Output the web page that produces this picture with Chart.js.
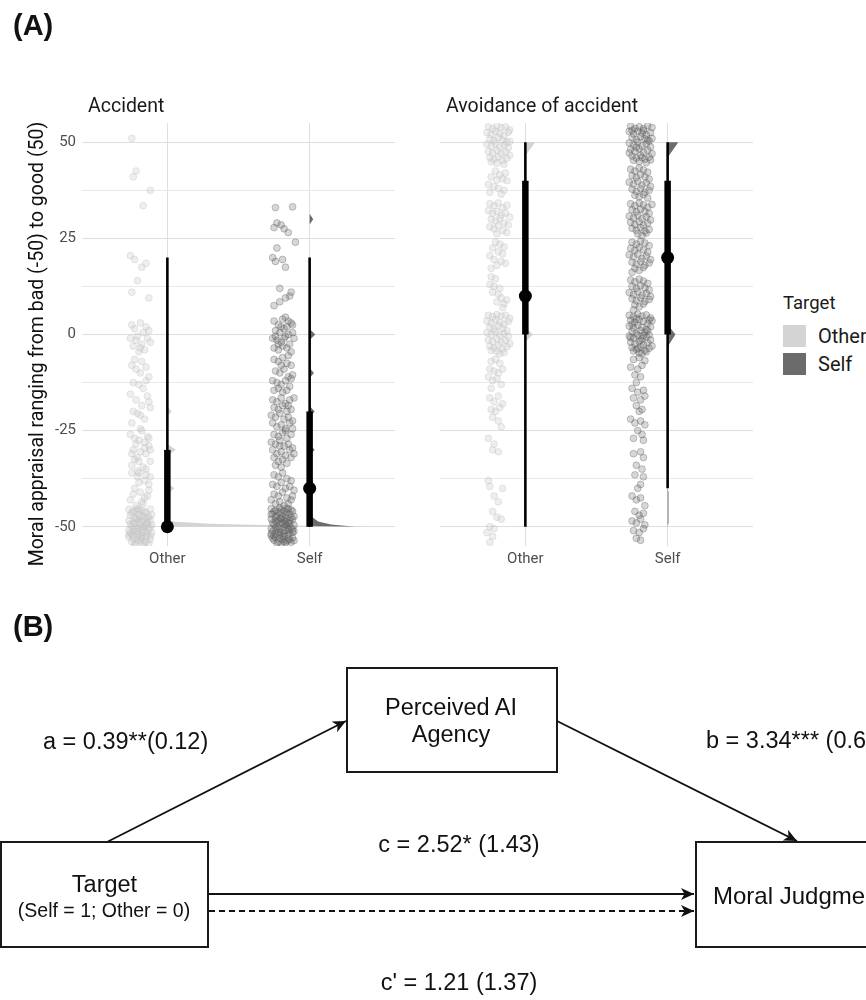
<!DOCTYPE html>
<html><head><meta charset="utf-8">
<script src="https://cdn.jsdelivr.net/npm/chart.js@4.4.1/dist/chart.umd.min.js"></script>
<style>
html,body{margin:0;padding:0;background:#fff;}
body{width:866px;height:1000px;overflow:hidden;position:relative;}
canvas{position:absolute;}
#c1{left:0;top:90px;}
#c2{left:420px;top:90px;}
.lg{position:absolute;font-family:Roboto,sans-serif;color:#1a1a1a;white-space:nowrap;line-height:1;}
.sw{position:absolute;width:23px;height:22px;}
svg{position:absolute;left:0;top:0;}
</style></head><body>
<canvas id="c1" width="420" height="480"></canvas>
<canvas id="c2" width="360" height="480"></canvas>
<div id="legend"></div>
<svg width="866" height="1000" viewBox="0 0 866 1000" font-family="'Liberation Sans', Arial, Helvetica, sans-serif" fill="#111">
<defs><marker id="ah" markerUnits="userSpaceOnUse" markerWidth="14" markerHeight="12" refX="13" refY="6" orient="auto"><path d="M0,0 L13,6 L0,12 L3.5,6 Z" fill="#111"/></marker></defs>
<text x="13" y="35" font-weight="bold" font-size="29">(A)</text>
<text x="13" y="636" font-weight="bold" font-size="29">(B)</text>
<g fill="#fff" stroke="#1a1a1a" stroke-width="2">
<rect x="1" y="842" width="207" height="105"/>
<rect x="347" y="668" width="210" height="104"/>
<rect x="696" y="842" width="200" height="105"/>
</g>
<g stroke="#111" stroke-width="1.8" fill="none">
<line x1="107" y1="842" x2="346" y2="721" marker-end="url(#ah)"/>
<line x1="557" y1="721" x2="797" y2="841" marker-end="url(#ah)"/>
<line x1="209" y1="894" x2="694" y2="894" marker-end="url(#ah)"/>
<line x1="209" y1="911" x2="694" y2="911" stroke-dasharray="6,4" marker-end="url(#ah)"/>
</g>
<text x="104.5" y="892" font-size="23.5" text-anchor="middle">Target</text>
<text x="104" y="917" font-size="19.5" text-anchor="middle">(Self = 1; Other = 0)</text>
<text x="451" y="715" font-size="23.5" text-anchor="middle">Perceived AI</text>
<text x="451" y="742" font-size="23.5" text-anchor="middle">Agency</text>
<text x="713" y="904" font-size="24">Moral Judgment</text>
<text x="43" y="749" font-size="23.5">a = 0.39**(0.12)</text>
<text x="706" y="748" font-size="23.5">b = 3.34*** (0.6</text>
<text x="459" y="852" font-size="23.5" text-anchor="middle">c = 2.52* (1.43)</text>
<text x="459" y="990" font-size="23.5" text-anchor="middle">c' = 1.21 (1.37)</text>
</svg>
<script>
const categories = ['Other', 'Self'];
const facets = ['Accident', 'Avoidance of accident'];
const yTitle = 'Moral appraisal ranging from bad (-50) to good (50)';
const legendTitle = 'Target';
const yMajorTicks = [-50, -25, 0, 25, 50];
const yMinorTicks = [-37.5, -12.5, 12.5, 37.5];
const groupColors = ['#d4d4d4', '#6b6b6b'];

// point + intervals, [Other, Self]
const accMedian = [-50, -40];
const accInner = [[-50, -30], [-50, -20]];
const accOuter = [[-50, 20], [-50, 20]];
const avdMedian = [10, 20];
const avdInner = [[0, 40], [0, 40]];
const avdOuter = [[-50, 50], [-40, 50]];

// half-violin outlines: [width (x units), value]
const accOtherDens = [[0,-50],[1.4,-50],[0.75,-49.6],[0.3,-49.2],[0.06,-48.7],[0,-48.4],[0,-41.4],[0.05,-40],[0,-38.6],[0,-31.5],[0.06,-30],[0,-28.5],[0,-21.2],[0.03,-20],[0,-18.8],[0,-11],[0.012,-10],[0,-9],[0,-1],[0.012,0],[0,1]];
const accSelfDens = [[0,-50],[0.32,-50],[0.15,-49.4],[0.06,-48.6],[0.02,-47.5],[0,-46.5],[0,-31.4],[0.035,-30],[0,-28.6],[0,-21.4],[0.035,-20],[0,-18.6],[0,-11.3],[0.03,-10],[0,-8.7],[0,-1.4],[0.04,0],[0,1.4],[0,28.6],[0.025,30],[0,31.4]];
const avdOtherDens = [[0,-1.8],[0.055,0],[0,1.8],[0,46.5],[0.07,50],[0,50]];
const avdSelfDens = [[0,-50],[0.006,-49],[0.006,-41],[0,-40],[0,-3.2],[0.055,0],[0,2.6],[0,8.8],[0.012,10],[0,11.2],[0,28.8],[0.018,30],[0,31.2],[0,46],[0.075,50],[0,50]];

// jittered responses: [horizontal jitter (hundredths), value]
const accOtherPts = [[-6,51],[-3,42.5],[-5,41],[7,37.5],[2,33.5],[-7,20.5],[-4,19.5],[4,18.5],[1,17.5],[-2,14],[-6,11],[6,9.5],
[-6,2.5],[-4,1.5],[0,3],[2,0.5],[5,-1],[7,-2],[-3,-1.5],[-5,-3],[1,-2.5],[3,-4],[-1,-4.5],[6,1],[-2,-0.5],[4,2],[-7,-1],[0,-3.5],
[-6,-8],[-3,-9],[0,-10],[4,-8.5],[6,-11],[-5,-12.5],[-1,-13],[2,-14],[-7,-15.5],[5,-16],[-3,-17],[1,-18.5],[7,-19],[-5,-20],[0,-21],[3,-22],[-2,-20.5],[6,-17.5],[-6,-23],[4,-12],[-4,-6.5],[1,-7],
[-7,-26],[-4,-27],[-1,-27.5],[3,-28],[6,-29],[-5,-30],[0,-30.5],[4,-31],[-2,-32],[7,-33],[-6,-34],[2,-34.5],[-3,-28.5],[5,-26.5],[-1,-33],[1,-25],[-6,-31],[4,-35],[6,-27],[-4,-32.5],[0,-24.5],[3,-29.5],[-2,-35.5],[7,-30],
[-6,-36],[-2,-37],[3,-38],[6,-39],[-4,-40],[0,-41],[5,-42],[-7,-43],[2,-44],[-1,-38.5],[4,-36.5],[-5,-41.5],[1,-43.5],[7,-37],[-3,-44.5],[6,-40.5],[-1,-36],[3,-42.5],
[-8,-45.5],[-5,-46],[-2,-45.2],[1,-45.8],[4,-46.3],[7,-45.4],[-7,-47],[-4,-47.5],[-1,-46.8],[2,-47.2],[5,-47.8],[8,-46.9],
[-8,-48.4],[-5,-48.9],[-2,-48.1],[1,-48.6],[4,-49.2],[7,-48.3],[-6,-49.8],[-3,-50.3],[0,-49.6],[3,-50.1],[6,-50.6],[-8,-50.9],
[-7,-51.5],[-4,-51.1],[-1,-51.8],[2,-51.3],[5,-52],[8,-51.6],[-8,-52.7],[-5,-53.1],[-2,-52.4],[1,-53],[4,-52.6],[7,-53.3],
[-6,-53.9],[-3,-54.3],[0,-53.7],[3,-54.1],[6,-54.4],[-1,-50.4],[-6,-46.4],[-3,-45.9],[0,-47.6],[3,-46.1],[6,-47.4],[-7,-49.3],
[-4,-49.1],[-1,-48.8],[2,-49.9],[5,-48.7],[8,-49.5],[-5,-50.7],[-2,-51.2],[1,-50.8],[4,-51.4],[7,-50.2],[-8,-52.1],[-5,-52.3],
[-2,-53.5],[1,-52.2],[4,-53.8],[7,-52.4],[-4,-54.6],[2,-54.5],[-1,-45.6],[3,-48],[-6,-51.9],[5,-49.6],[0,-52.8],[-3,-47.9]];

const accSelfPts = [[-5,33],[7,33.2],[-4,29],[-1,28.5],[1,27.5],[-6,27.8],[4,26.5],[9,24],[-4,22.5],[-7,20],[-5,19],[0,19.5],[2,17.5],[-2,12],[6,11],[5,10],[2,9.5],[-6,7.5],[-2,8.5],
[-6,3.5],[-3,2.5],[0,4],[3,2],[6,3],[-5,1],[-2,0.5],[1,1.5],[4,0],[7,0.5],[-7,-1],[-4,-1.5],[-1,-2],[2,-0.5],[5,-2.5],[8,-1],[-6,-3.5],[-3,-4],[0,-3],[3,-3.5],[6,-4.5],[-5,-0.5],[1,-1],[4,3.5],[-1,2],[7,2.5],[-3,-2.5],[2,4.5],
[-6,-6.5],[-3,-7],[0,-6],[3,-7.5],[6,-8],[-5,-9.5],[-2,-10],[1,-9],[4,-11],[7,-10.5],[-7,-12],[-4,-12.5],[-1,-13],[2,-12],[5,-13.5],[-6,-14.5],[-3,-14],[0,-15],[3,-14.5],[6,-11.5],[-1,-8],[4,-5.5],
[-7,-17],[-4,-17.5],[-1,-16.5],[2,-18],[5,-17],[8,-16.5],[-6,-19],[-3,-19.5],[0,-18.5],[3,-20],[6,-19.5],[-8,-21],
[-5,-21.5],[-2,-20.5],[1,-22],[4,-21.5],[7,-22.5],[-7,-23],[-4,-24],[-1,-23.5],[2,-24.5],[5,-23],[-6,-26],[-3,-26.5],
[0,-25.5],[3,-27],[6,-26],[-8,-28],[-5,-28.5],[-2,-27.5],[1,-29],[4,-28.5],[7,-29.5],[-7,-30],[-4,-31],[-1,-30.5],
[2,-31.5],[5,-30],[8,-31],[-6,-32],[-3,-33],[0,-32.5],[3,-33.5],[6,-32],[-5,-34],[-1,-34.5],[2,-25],[4,-18.5],[-2,-29],[7,-24.5],
[-6,-36.5],[-3,-37],[0,-36],[3,-37.5],[6,-38],[-7,-39],[-4,-39.5],[-1,-38.5],[2,-40],[5,-39.5],[8,-40.5],[-6,-41.5],[-3,-42],[0,-41],[3,-42.5],[6,-43],[-5,-44],[-2,-43.5],[1,-44.5],[4,-44],[7,-42],[-8,-43],
[-8,-45.3],[-5,-45.8],[-2,-45.1],[1,-45.9],[4,-45.4],[7,-46],[-7,-46.6],[-4,-47.1],[-1,-46.4],[2,-47],[5,-46.7],[8,-47.3],
[-8,-48],[-5,-48.5],[-2,-47.8],[1,-48.3],[4,-48.9],[7,-48.1],[-6,-49.4],[-3,-49.9],[0,-49.2],[3,-49.7],[6,-50.2],[-8,-50.5],
[-7,-51.1],[-4,-50.8],[-1,-51.4],[2,-50.9],[5,-51.6],[8,-51.2],[-8,-52.3],[-5,-52.8],[-2,-52],[1,-52.6],[4,-52.2],[7,-52.9],
[-6,-53.5],[-3,-53.9],[0,-53.3],[3,-53.7],[6,-54],[-1,-54.5],[-6,-46],[-3,-46.2],[0,-47.4],[3,-46.3],[6,-47.6],[-7,-49],
[-4,-48.8],[-1,-49],[2,-49.5],[5,-49.1],[8,-49.6],[-5,-50.3],[-2,-50.6],[1,-50.1],[4,-50.5],[7,-50.7],[-8,-51.8],[-5,-51.9],
[-2,-53],[1,-51.7],[4,-53.2],[7,-51.5],[-4,-54.3],[2,-54.2],[-1,-45.5],[3,-47.7],[-6,-52.4],[5,-48.4],[0,-52.4],[-3,-48.2],
[6,-45.6],[-5,-47.5],[2,-48.7],[-1,-47.9],[4,-51],[-7,-53],[8,-53.6],[-3,-51.4],[1,-53.8],[5,-53.4],[-8,-46.8],[3,-45.2]];

const avdOtherPts = [[-7,54],[-4,53.5],[-1,54.3],[2,53.8],[5,54],[8,53.2],[-8,52.5],[-5,52],[-2,52.8],[1,52.3],[4,51.7],[7,52.6],
[-6,50.9],[-3,50.4],[0,51.2],[3,50.6],[6,50],[-8,49.5],[-5,49],[-2,49.7],[1,48.8],[4,49.3],[7,48.5],[-7,47.6],
[-4,47.2],[-1,47.9],[2,47],[5,47.5],[8,46.6],[-6,46],[-3,45.5],[0,46.2],[3,45.2],[6,45.8],[-1,44.6],[4,44.3],[-5,44.9],[8,50.2],
[-2,42.5],[1,41.5],[-5,41],[3,40.5],[6,40],[-7,39],[-3,38.5],[0,38],[4,37.5],[-6,37],[2,36.5],[-1,40.2],[5,42],
[-6,34],[-3,33.5],[0,34.2],[3,33],[6,33.6],[-7,32.2],[-4,31.5],[-1,32],[2,31],[5,31.6],[8,30.5],[-5,30],[-2,29.5],[1,30.2],[4,29],[7,28.5],[-6,28],[-3,27.5],[0,28.3],[3,27],[6,26.5],[-1,26.2],
[-2,24],[1,23.5],[-4,22.5],[0,21.5],[3,21],[-6,20.5],[-3,19.5],[2,19],[5,18.5],[-1,18],[-5,17.2],[4,22.8],
[-5,15],[-2,14.5],[-6,13],[-3,12.5],[1,12],[-4,11],[0,10.5],[2,9.5],[-1,8.5],[4,8],[6,9],[3,7],
[-7,5],[-4,4.6],[-1,5.2],[2,4.8],[5,5],[8,4.2],[-8,3.5],[-5,3],[-2,3.8],[1,3.2],[4,2.7],[7,3.4],
[-6,1.9],[-3,1.4],[0,2.2],[3,1.6],[6,1],[-8,0.5],[-5,0],[-2,0.7],[1,-0.2],[4,0.3],[7,-0.5],[-7,-1.4],
[-4,-1.8],[-1,-1.1],[2,-2],[5,-1.5],[8,-2.4],[-6,-3],[-3,-3.5],[0,-2.8],[3,-3.8],[6,-3.2],[-1,-4.4],[4,-4.7],[-5,-4.1],[1,-5],
[-5,-7],[-2,-6.5],[1,-7.5],[-6,-9],[-3,-9.5],[0,-10],[3,-9],[-7,-11],[-4,-12],[-1,-11.5],[2,-13],[-5,-14],
[-6,-16.5],[-3,-17.5],[0,-16],[3,-18],[-5,-19.5],[-2,-20],[1,-19],[-4,-21.5],[0,-22.5],[2,-24],
[-7,-27],[-3,-28.5],[-4,-30],[0,-30.5],[-7,-38],[-6,-39.5],[3,-40],[-3,-42],[0,-43.5],
[-4,-46],[-1,-47.5],[2,-48],[-6,-50],[-3,-50.5],[-8,-51.5],[-4,-52.5],[-6,-54]];

const avdSelfPts = [[-7,54.2],[-4,53.6],[-1,54],[2,53.5],[5,54.3],[8,53.8],[-8,52.8],[-5,52.2],[-2,52.9],[1,52.4],[4,51.9],[7,52.5],
[-6,51.2],[-3,50.7],[0,51.4],[3,50.9],[6,50.3],[-8,49.8],[-5,49.3],[-2,50],[1,49.1],[4,49.6],[7,48.8],[-7,48.2],
[-4,47.6],[-1,48.3],[2,47.4],[5,47.9],[8,47],[-6,46.4],[-3,45.9],[0,46.6],[3,45.6],[6,46.1],[-1,45],[4,44.7],
[-5,45.3],[8,51],[-8,47.2],[2,53],[-3,48.7],[5,50.6],[-6,53.1],[1,46],[7,45.4],
[-7,43],[-4,42.5],[-1,43.3],[2,42.8],[5,42.2],[-6,41.3],[-3,40.8],[0,41.6],[3,41],[6,40.4],[-8,39.6],[-5,39.1],[-2,39.8],[1,38.9],[4,39.4],[7,38.5],[-6,37.8],[-3,37.2],[0,37.9],[3,37],[6,37.5],[-4,36.2],[-1,35.8],[2,36.4],[5,35.5],
[-7,34],[-4,33.5],[-1,34.2],[2,33.7],[5,33.1],[8,33.8],[-6,32.4],[-3,31.9],[0,32.6],[3,32],[6,31.5],[-8,30.8],[-5,30.3],[-2,31],[1,30.1],[4,30.6],[7,29.8],[-7,29.2],[-4,28.6],[-1,29.3],[2,28.4],[5,28.9],[-6,27.6],[-3,27.1],[0,27.8],[3,26.9],[6,27.3],[-2,26.2],[1,25.7],[4,26.4],
[-6,24],[-3,23.5],[0,24.3],[3,23.8],[6,23.1],[-7,22.4],[-4,21.9],[-1,22.6],[2,22],[5,21.4],[-8,20.7],[-5,20.2],[-2,20.9],[1,19.8],[4,20.4],[7,19.5],[-6,18.8],[-3,18.3],[0,19],[3,18],[6,18.6],[-4,17.2],[-1,16.7],[2,17.4],[-6,16.2],
[-7,14.2],[-4,13.7],[-1,14.4],[2,13.9],[5,13.3],[-6,12.5],[-3,12],[0,12.7],[3,12.1],[6,11.6],[-8,10.9],[-5,10.4],[-2,11.1],[1,10.2],[4,10.7],[7,9.9],[-6,9.3],[-3,8.8],[0,9.5],[3,8.6],[6,9.1],[-4,7.7],[-1,7.2],[2,7.9],[-5,6.4],
[-8,5],[-5,4.6],[-2,5.3],[1,4.8],[4,5.1],[7,4.3],[-7,3.7],[-4,3.2],[-1,3.9],[2,3.4],[5,2.9],[8,3.6],
[-8,2.2],[-5,1.7],[-2,2.4],[1,1.9],[4,1.3],[7,2],[-6,0.8],[-3,0.3],[0,1],[3,0.5],[6,-0.1],[-8,-0.4],
[-5,-0.9],[-2,-0.2],[1,-1.1],[4,-0.6],[7,-1.4],[-7,-2],[-4,-2.5],[-1,-1.8],[2,-2.7],[5,-2.2],[8,-3],[-6,-3.4],
[-3,-3.9],[0,-3.2],[3,-4.1],[6,-3.6],[-1,-4.8],[4,-4.5],[-5,-4.3],[1,-5],[-7,-0.8],[5,1],[-3,4.2],[2,-0.3],[-6,2.7],[6,3.8],[0,-1.5],[-2,-3.6],
[-5,-6.5],[-1,-6],[3,-6.8],[-7,-8.5],[-2,-9],[1,-8],[-4,-10.5],[0,-11],[-3,-12.5],
[-6,-14],[-2,-15],[2,-14.5],[-5,-16.5],[0,-17],[3,-16],[-3,-18.5],[1,-19.5],[-1,-20],
[-7,-22],[-4,-23],[0,-22.5],[3,-23.5],[-2,-25],[1,-26],[-5,-27],[2,-27.5],
[-5,-31],[0,-30.5],[2,-32],[-3,-34],[1,-35],[-4,-36.5],[2,-37],[0,-39],[-2,-40],
[-6,-42],[-3,-43],[0,-42.5],[3,-44.5],[-4,-46],[-1,-47],[2,-46.5],[-6,-48.5],[-3,-49],[0,-48],[3,-49.5],[-5,-51],[-1,-51.5],[2,-50.5],[-3,-53],[0,-53.5]];

// ---------- build ----------
const JITTER_CENTER = -0.19;
const pointFill = ['rgba(200,200,200,0.3)', 'rgba(100,100,100,0.26)'];
const pointEdge = ['rgba(195,195,195,0.38)', 'rgba(95,95,95,0.36)'];
const majorGrid = '#dedede', minorGrid = '#e9e9e9';
const yTicksAll = [...yMajorTicks, ...yMinorTicks].sort((a,b)=>a-b);

function toPts(arr, cat){ return arr.map(([j, v]) => ({x: cat + JITTER_CENTER + j/100, y: v})); }
function toDens(arr, cat){ return arr.map(([w, v]) => ({x: cat + w, y: v})); }

function buildDatasets(median, inner, outer, ptsList, densList){
  const ds = [];
  for (let g = 0; g < 2; g++){
    const cat = g + 1;
    ds.push({data:[{x:cat, y:median[g]}], pointRadius:6.5, backgroundColor:'#000', borderColor:'#000', pointBorderWidth:0, order:0});
    ds.push({data:[{x:cat, y:inner[g][0]},{x:cat, y:inner[g][1]}], showLine:true, borderWidth:6.5, borderColor:'#000', pointRadius:0, order:1});
    ds.push({data:[{x:cat, y:outer[g][0]},{x:cat, y:outer[g][1]}], showLine:true, borderWidth:2.6, borderColor:'#000', pointRadius:0, order:2});
    ds.push({data:toPts(ptsList[g], cat), pointRadius:3.4, backgroundColor:pointFill[g], borderColor:pointEdge[g], pointBorderWidth:1, order:3});
    ds.push({data:toDens(densList[g], cat), showLine:true, fill:'shape', backgroundColor:groupColors[g], borderColor:'rgba(0,0,0,0)', borderWidth:1, pointRadius:0, order:4});
  }
  return ds;
}

const facetPlugin = {
  id: 'facetText',
  afterDraw(chart, args, opts){
    const {ctx, chartArea} = chart;
    ctx.save();
    ctx.fillStyle = '#1a1a1a';
    ctx.font = '19.5px Roboto, sans-serif';
    ctx.textBaseline = 'middle';
    ctx.textAlign = 'left';
    ctx.fillText(opts.title, chartArea.left + 6, 17);
    if (opts.yTitle){
      ctx.translate(38, 254);
      ctx.rotate(-Math.PI/2);
      ctx.textAlign = 'center';
      ctx.fillStyle = '#111';
      ctx.fillText(opts.yTitle, 0, 0);
    }
    ctx.restore();
  }
};

function makeChart(id, facetIdx, datasets, showY){
  const yAxisWidth = showY ? 82 : 20;
  new Chart(document.getElementById(id), {
    type: 'scatter',
    data: {datasets},
    options: {
      responsive:false, animation:false, events:[], devicePixelRatio:1,
      layout:{padding:{top:33, right: showY ? 25 : 27, left:0, bottom:0}},
      plugins:{legend:{display:false}, tooltip:{enabled:false},
        facetText:{title:facets[facetIdx], yTitle: showY ? yTitle : null}},
      scales:{
        x:{type:'linear', min:0.4, max:2.6,
          afterBuildTicks: s => { s.ticks = categories.map((c,i)=>({value:i+1})); },
          afterFit: s => { s.height = 24; },
          ticks:{callback: v => categories[Math.round(v)-1], padding:4, color:'#4d4d4d', font:{family:'Roboto, sans-serif', size:15}},
          grid:{color:majorGrid, drawTicks:false, lineWidth:1},
          border:{display:false}},
        y:{type:'linear', min:-55, max:55,
          afterBuildTicks: s => { s.ticks = yTicksAll.map(v=>({value:v})); },
          afterFit: s => { s.width = yAxisWidth; },
          ticks:{display:showY, padding:6, color:'#4d4d4d', font:{family:'Roboto, sans-serif', size:15},
            callback: v => yMajorTicks.includes(v) ? String(v) : ''},
          grid:{color: c => (c.tick && yMinorTicks.includes(c.tick.value)) ? minorGrid : majorGrid, drawTicks:false, lineWidth:1},
          border:{display:false}}
      }
    },
    plugins:[facetPlugin]
  });
}

makeChart('c1', 0, buildDatasets(accMedian, accInner, accOuter, [accOtherPts, accSelfPts], [accOtherDens, accSelfDens]), true);
makeChart('c2', 1, buildDatasets(avdMedian, avdInner, avdOuter, [avdOtherPts, avdSelfPts], [avdOtherDens, avdSelfDens]), false);

// legend
const lg = document.getElementById('legend');
let html = `<div class="lg" style="left:783px;top:294px;font-size:18.5px">${legendTitle}</div>`;
categories.forEach((c, i) => {
  const top = 325 + i * 28;
  html += `<div class="sw" style="left:783px;top:${top}px;background:${groupColors[i]}"></div>`;
  html += `<div class="lg" style="left:818px;top:${top + 1}px;font-size:20px">${c}</div>`;
});
lg.innerHTML = html;
</script>
</body></html>
